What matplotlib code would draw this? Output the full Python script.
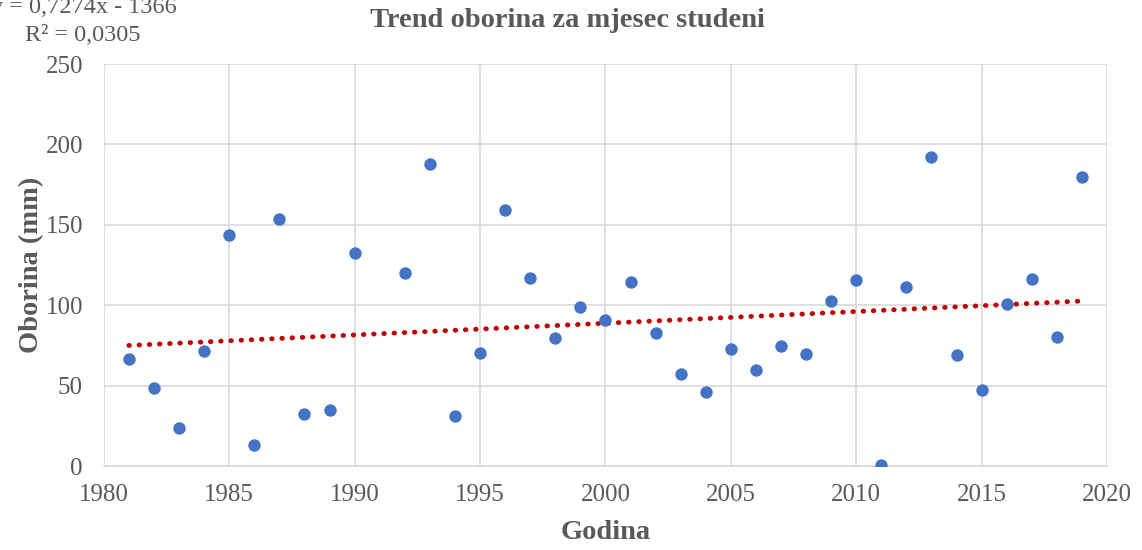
import matplotlib.pyplot as plt
import numpy as np

# Data
godina = [1981, 1982, 1983, 1984, 1985, 1986, 1987, 1988, 1989, 1990,
          1992, 1993, 1994, 1995, 1996, 1997, 1998, 1999, 2000, 2001,
          2002, 2003, 2004, 2005, 2006, 2007, 2008, 2009, 2010, 2011,
          2012, 2013, 2014, 2015, 2016, 2017, 2018, 2019]
oborina = [66.5, 48.5, 23.6, 71.5, 143.7, 13.0, 153.6, 32.3, 34.8, 132.5,
           120.0, 187.8, 31.0, 70.3, 159.2, 117.0, 79.6, 98.9, 90.8, 114.4,
           82.7, 57.2, 46.0, 72.8, 59.7, 74.6, 69.7, 102.6, 115.7, 0.6,
           111.3, 192.2, 69.0, 47.3, 100.7, 116.3, 80.2, 179.7]
# trend line from the equation on the chart
nagib = 0.7274
odsjecak = -1366
xticks = [1980, 1985, 1990, 1995, 2000, 2005, 2010, 2015, 2020]
yticks = [0, 50, 100, 150, 200, 250]

plt.rcParams['font.family'] = ['Liberation Serif', 'DejaVu Serif']

fig = plt.figure(figsize=(11.42, 5.5), dpi=100)
ax = fig.add_axes([0.0909, 0.1527, 0.8785, 0.7309])

# Trend
xt = np.array([godina[0], godina[-1]])
ax.plot(xt, nagib * xt + odsjecak, color='#C00000', linestyle=(0, (0.1, 2.0)),
        linewidth=3.5, dash_capstyle='round', zorder=2)

# Points
ax.scatter(godina, oborina, s=80, color='#4472C4', zorder=3, linewidths=0)

ax.set_xlim(1980, 2020)
ax.set_ylim(0, 250)
ax.set_xticks(xticks)
ax.set_yticks(yticks)
ax.grid(True, color='#d9d9d9', linewidth=1.2)
ax.set_axisbelow(True)
for s in ['top', 'right', 'left']:
    ax.spines[s].set_visible(False)
ax.spines['bottom'].set_color('#d9d9d9')
ax.spines['bottom'].set_linewidth(1.2)
ax.tick_params(axis='both', length=0, labelsize=18, labelcolor='#595959')
ax.tick_params(axis='y', pad=15)
ax.tick_params(axis='x', pad=13)

ax.set_xlabel('Godina', fontsize=20.5, fontweight='bold', color='#595959', labelpad=10)
ax.set_ylabel('Oborina (mm)', fontsize=20.5, fontweight='bold', color='#595959', labelpad=1)

fig.text(0.497, 0.962, 'Trend oborina za mjesec studeni', ha='center', va='center',
         fontsize=20.5, fontweight='bold', color='#595959')
fig.text(0.155, 0.987, 'y = 0,7274x - 1366', ha='right', va='center',
         fontsize=17.5, color='#595959')
fig.text(0.022, 0.936, 'R² = 0,0305', ha='left', va='center',
         fontsize=17.5, color='#595959')

fig.savefig('out.png', dpi=100)
